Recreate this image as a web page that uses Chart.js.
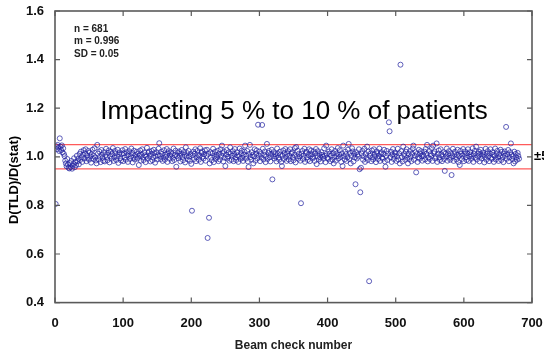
<!DOCTYPE html>
<html><head><meta charset="utf-8">
<script src="https://cdn.jsdelivr.net/npm/chart.js@4.4.1/dist/chart.umd.min.js"></script>
<style>html,body{margin:0;padding:0;background:#fff;}#wrap{position:relative;width:544px;height:355px;}</style>
</head><body><div id="wrap"><canvas id="c" width="544" height="355"></canvas></div>
<script>
// D(TLD)/D(stat) ratio for each beam check (beam check number = position, 1..681)
const ratios = [
0.806,1.043,1.031,1.049,1.038,1.024,1.076,1.042,1.028,1.047,1.018,1.035,1.012,1.003,0.984,0.972,0.961,0.991,0.968,0.955,
0.952,0.974,0.958,0.983,0.951,0.963,0.971,0.994,0.957,0.979,0.966,1.004,0.981,0.992,0.969,1.012,0.987,1.021,0.998,0.979,
1.008,1.027,0.993,1.015,1.031,0.982,1.006,0.995,1.024,0.988,1.017,1.002,0.976,1.011,1.029,0.991,1.004,1.035,0.997,0.985,
0.973,1.049,1.013,0.989,1.022,1.001,0.978,1.028,1.009,0.996,0.984,1.019,0.981,1.007,1.033,0.999,0.986,1.016,1.026,0.977,
1.003,1.021,0.992,1.011,1.036,0.983,0.998,1.024,1.014,0.987,1.001,1.029,0.975,1.009,1.018,0.994,0.985,1.012,1.027,0.982,
1.014,0.997,1.032,0.988,1.019,1.005,0.979,1.011,1.023,0.991,1.002,1.034,1.015,0.977,0.996,1.025,0.989,1.008,0.999,1.021,
0.993,1.013,0.966,1.004,1.026,0.984,1.009,1.031,0.997,0.987,1.018,1.006,0.978,1.001,1.037,0.992,1.016,1.022,1.003,0.981,
1.011,1.024,0.986,0.998,1.029,1.015,0.976,1.002,1.019,0.989,1.007,1.033,1.056,1.004,0.991,1.021,1.012,0.983,0.997,1.027,
0.988,1.009,1.001,1.032,0.979,1.014,1.023,0.992,1.005,1.018,1.011,0.982,0.996,1.034,0.987,1.007,1.025,0.959,1.003,1.016,
0.994,1.022,1.004,0.981,1.013,1.028,0.999,0.986,1.019,1.008,0.977,1.039,1.002,1.015,0.989,1.024,1.001,0.983,1.012,0.971,
0.778,1.006,1.021,0.991,1.013,1.031,0.982,0.998,1.024,1.009,0.988,1.003,1.035,0.979,1.016,1.022,1.001,0.993,1.011,1.027,
0.984,1.004,1.029,0.666,1.012,0.749,0.973,1.019,0.997,0.986,1.014,1.033,0.978,1.002,1.021,0.991,1.008,0.999,1.025,0.982,
1.012,0.989,1.031,1.003,1.046,1.015,0.981,1.022,0.996,0.962,1.009,1.028,0.993,1.001,1.018,0.984,1.039,1.013,0.988,1.004,
1.023,0.982,1.011,1.032,0.998,0.987,1.019,1.006,0.979,1.002,1.034,0.991,1.014,1.025,0.996,0.983,1.009,1.021,1.046,0.992,
1.004,1.024,0.981,0.958,1.012,1.049,0.999,0.988,1.019,1.007,0.973,1.002,1.031,0.984,1.013,1.026,0.993,1.132,1.005,1.021,
0.982,1.011,0.997,1.131,1.033,0.989,1.008,1.022,0.978,1.001,1.053,0.991,1.016,1.024,0.998,0.981,1.012,1.029,0.907,1.003,
1.019,0.993,1.011,1.002,0.981,1.034,1.013,0.997,0.988,1.021,1.009,0.979,0.962,1.004,1.026,0.991,1.015,1.032,0.999,0.983,
1.011,1.023,0.989,1.003,1.031,0.982,1.014,1.019,0.997,0.986,1.008,1.036,0.977,1.040,1.002,1.025,0.992,1.013,1.001,0.984,
0.809,1.012,1.024,0.991,1.004,1.033,0.979,1.015,1.021,0.998,0.987,1.009,1.031,0.982,1.003,1.026,1.011,0.993,0.999,1.022,
0.983,1.014,1.032,0.970,1.002,1.023,0.989,1.011,0.997,0.981,1.019,1.008,1.001,0.992,1.035,1.004,0.978,1.046,1.013,0.996,
0.991,1.022,1.012,0.982,1.004,1.031,0.988,1.015,0.973,0.999,1.024,0.984,1.013,1.002,1.036,0.993,1.009,1.027,1.001,0.979,
1.014,0.962,1.046,1.003,0.989,1.021,1.011,0.983,0.998,1.029,1.053,0.991,1.016,0.973,1.004,1.035,1.022,0.981,1.012,0.997,
0.887,1.019,0.993,1.008,1.001,1.031,0.949,0.854,0.955,1.013,1.024,0.988,1.002,1.033,0.979,1.011,0.996,1.042,0.987,1.021,
0.488,1.004,1.013,0.982,1.026,0.998,0.989,1.031,1.009,1.001,0.978,1.022,1.014,0.991,1.003,1.034,0.983,1.012,1.019,0.997,
0.992,1.011,1.029,0.981,0.959,1.003,1.024,0.987,1.013,1.142,1.105,0.998,1.021,0.979,1.009,1.032,0.991,1.004,1.018,1.012,
0.983,1.002,1.033,0.989,1.014,0.973,1.379,1.023,0.998,0.981,1.042,1.011,1.003,0.988,1.021,1.031,0.996,0.973,1.012,0.991,
1.024,1.001,0.982,1.013,1.034,1.046,0.988,1.004,1.019,0.936,1.011,0.979,0.998,1.029,0.992,1.014,1.023,1.002,0.984,1.009,
1.003,1.021,0.989,1.032,1.012,1.049,0.981,0.997,1.024,0.991,1.011,1.004,1.035,0.983,1.046,1.014,1.022,0.993,1.001,1.055,
0.979,1.012,1.026,0.998,0.987,1.031,1.009,0.982,1.003,1.019,0.991,0.942,1.013,1.001,1.034,0.984,1.011,1.023,0.996,0.988,
1.014,0.925,1.002,1.033,0.983,1.011,1.021,0.999,0.989,1.008,1.029,0.978,1.003,0.966,1.024,1.012,0.991,1.004,1.032,0.982,
1.011,1.022,0.998,0.987,1.014,1.031,0.983,1.002,1.019,1.009,0.992,1.003,1.035,0.979,1.012,1.024,0.997,1.042,0.989,1.013,
1.002,1.021,0.981,1.011,1.029,0.993,1.004,1.018,1.009,0.977,0.999,1.033,0.988,1.012,1.023,1.001,0.982,1.014,1.031,0.996,
0.991,1.019,1.008,0.979,1.003,1.034,0.989,1.012,1.024,0.998,0.983,1.011,1.002,1.029,0.987,1.021,0.999,0.978,1.013,1.022,
1.004,1.123,0.992,1.011,1.028,0.982,0.998,1.019,1.055,1.009,0.991,1.002,0.973,1.021,0.981,1.012,0.997,0.988,1.016,1.003,
0.992
];
const xTicks = [0,100,200,300,400,500,600,700];
const yTicks = [0.4,0.6,0.8,1.0,1.2,1.4,1.6];
const limitValues = [0.95,1.05];
const xRange = [0,700];
const statsLines = ['n = 681','m = 0.996','SD = 0.05'];
const headline = 'Impacting 5 % to 10 % of patients';
const sideLabel = '\u00b15 %';
const xTitle = 'Beam check number';
const yTitle = 'D(TLD)/D(stat)';

const FONT = "'Liberation Sans', Arial, sans-serif";

const points = ratios.map((v,i)=>({x:i+1,y:v}));
const limitSets = limitValues.map(v=>({
  data:[{x:xRange[0],y:v},{x:xRange[1],y:v}],
  showLine:true, borderColor:'#ff5a5a', borderWidth:1.3, pointRadius:0, fill:false
}));

const decor = {
  id:'decor',
  afterDatasetsDraw(chart){
    const ctx = chart.ctx, a = chart.chartArea;
    const xs = chart.scales.x, ys = chart.scales.y;
    ctx.save();
    ctx.strokeStyle = '#5a5a5a';
    ctx.lineWidth = 1.6;
    ctx.strokeRect(a.left, a.top, a.right - a.left, a.bottom - a.top);
    ctx.lineWidth = 1.2;
    ctx.beginPath();
    xTicks.forEach(v=>{
      const p = xs.getPixelForValue(v);
      ctx.moveTo(p, a.bottom); ctx.lineTo(p, a.bottom - 5);
      ctx.moveTo(p, a.top); ctx.lineTo(p, a.top + 5);
    });
    yTicks.forEach(v=>{
      const p = ys.getPixelForValue(v);
      ctx.moveTo(a.left, p); ctx.lineTo(a.left + 5, p);
      ctx.moveTo(a.right, p); ctx.lineTo(a.right - 5, p);
    });
    ctx.stroke();
    ctx.fillStyle = '#222';
    ctx.font = 'bold 10px ' + FONT;
    ctx.textAlign = 'left'; ctx.textBaseline = 'middle';
    statsLines.forEach((t,i)=>ctx.fillText(t, a.left + 19, a.top + 18 + i*12.5));
    ctx.fillStyle = '#000';
    ctx.font = '26px ' + FONT;
    ctx.textAlign = 'center'; ctx.textBaseline = 'alphabetic';
    ctx.fillText(headline, 294, 119);
    ctx.font = 'bold 13px ' + FONT;
    ctx.textAlign = 'left'; ctx.textBaseline = 'middle';
    ctx.fillText(sideLabel, a.right + 2, ys.getPixelForValue(1.0));
    ctx.translate(14, 180);
    ctx.rotate(-Math.PI/2);
    ctx.textAlign = 'center';
    ctx.font = 'bold 13px ' + FONT;
    ctx.fillText(yTitle, 0, 0);
    ctx.restore();
  }
};

new Chart(document.getElementById('c'), {
  type:'scatter',
  data:{datasets:[
    {data:points, pointStyle:'circle', pointRadius:2.5, borderWidth:0.9,
     borderColor:'rgba(35,35,160,0.8)', backgroundColor:'rgba(0,0,0,0)', showLine:false},
    ...limitSets
  ]},
  options:{
    responsive:false, animation:false, devicePixelRatio:1,
    layout:{padding:{left:0,right:12,top:11,bottom:0}},
    plugins:{legend:{display:false}, tooltip:{enabled:false}},
    scales:{
      x:{type:'linear', min:xRange[0], max:xRange[1],
        afterBuildTicks:s=>{s.ticks = xTicks.map(v=>({value:v}));},
        afterFit:s=>{s.height = 52.4; s.paddingLeft = 0; s.paddingRight = 0;},
        grid:{display:false, drawTicks:false}, border:{display:false},
        ticks:{autoSkip:false, maxRotation:0, padding:13, color:'#111', font:{family:FONT, size:13, weight:'bold'}},
        title:{display:true, text:xTitle, color:'#222', padding:{top:0,bottom:2}, font:{family:FONT, size:12, weight:'bold'}}
      },
      y:{type:'linear', min:0.4, max:1.6,
        afterBuildTicks:s=>{s.ticks = yTicks.map(v=>({value:v}));},
        afterFit:s=>{s.width = 55; s.paddingTop = 0; s.paddingBottom = 0;},
        grid:{display:false, drawTicks:false}, border:{display:false},
        ticks:{padding:11, color:'#111', callback:v=>v.toFixed(1), font:{family:FONT, size:13, weight:'bold'}}
      }
    }
  },
  plugins:[decor]
});
</script></body></html>
